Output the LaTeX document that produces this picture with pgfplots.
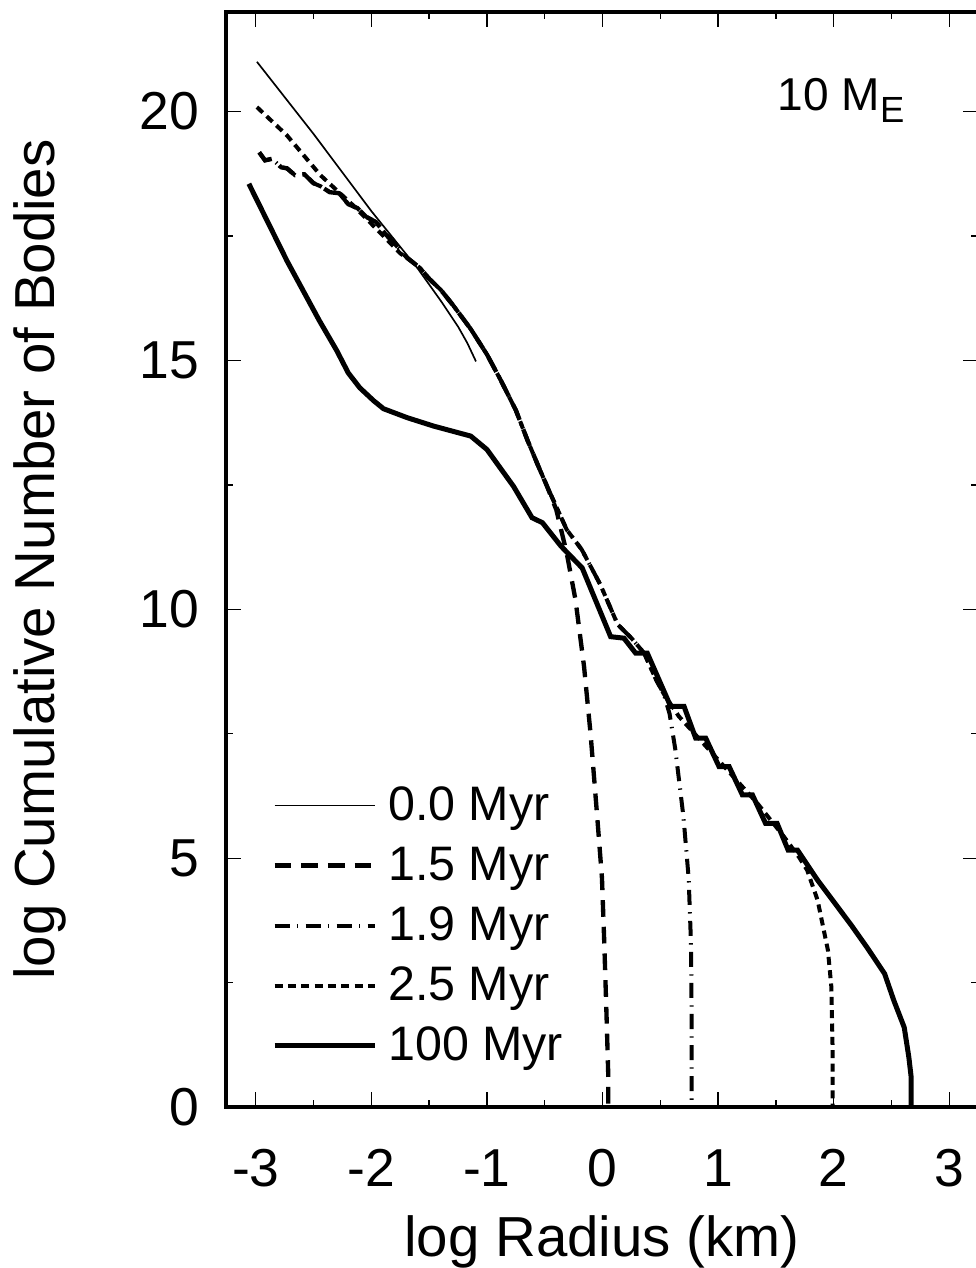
\documentclass[border=0pt]{standalone}
\usepackage{fontspec}
\setmainfont{Liberation Sans}
\usepackage{pgfplots}
\pgfplotsset{compat=1.18}

\newcommand{\tickfont}{\fontsize{16}{19}\selectfont}
\newcommand{\labfont}{\fontsize{16.9}{20}\selectfont}
\newcommand{\legfont}{\fontsize{14.5}{17}\selectfont}

\begin{document}
\begin{tikzpicture}[trim right=224.6pt]
\begin{axis}[
  scale only axis,
  width=225.4pt, height=328pt,
  xmin=-3.26, xmax=3.25,
  ymin=0, ymax=22,
  xtick={-3,-2,-1,0,1,2,3},
  xticklabels={-3,-2,-1,0,1,2,3},
  ytick={0,5,10,15,20},
  yticklabels={0,5,10,15,20},
  minor x tick num=1,
  minor y tick num=1,
  tick align=inside,
  tick pos=both,
  major tick length=4.5pt,
  minor tick length=2.2pt,
  every tick/.style={black, line width=0.4pt},
  axis line style={line width=1.2pt},
  tick label style={font=\tickfont},
  xticklabel style={inner sep=0pt, anchor=north, yshift=-12.5pt},
  yticklabel style={inner sep=0pt, anchor=east, xshift=-7.7pt},
  label style={font=\labfont},
  xlabel={log Radius (km)},
  ylabel={log Cumulative Number of Bodies},
  xlabel style={at={(axis description cs:0.5,-0.1363)}, anchor=base, inner sep=0pt},
  ylabel style={at={(axis description cs:-0.227,0.5)}, anchor=base, inner sep=0pt, inner ysep=4.2pt},
  legend cell align=left,
  legend image code/.code={\draw[#1] (0pt,1.4pt) -- (30pt,1.4pt);},
  legend style={
    at={(axis description cs:0.0616,0.2895)}, anchor=north west,
    draw=none, fill=none, inner sep=0pt, outer sep=0pt,
    row sep=6pt, column sep=3.3pt, font=\legfont,
    nodes={inner sep=0pt, text height=9pt, text depth=3pt}},
]

% initial population
\addplot[black, line width=0.5pt] coordinates {
  (-2.99,21.0) (-2.5,19.55) (-2.0,18.0) (-1.6,16.85) (-1.4,16.2)
  (-1.25,15.68) (-1.17,15.35) (-1.095,14.98)
};
\addlegendentry{0.0 Myr}

% 1.5 Myr
\addplot[black, line width=1.3pt, dash pattern=on 5pt off 3pt] coordinates {
  (-2.97,19.18) (-2.92,19.02) (-2.86,19.05) (-2.78,18.88) (-2.73,18.86)
  (-2.66,18.72) (-2.58,18.74) (-2.50,18.56) (-2.44,18.50) (-2.36,18.38)
  (-2.28,18.36) (-2.20,18.14) (-2.12,18.06) (-2.04,17.88) (-1.96,17.78)
  (-1.87,17.52) (-1.78,17.30) (-1.69,17.06) (-1.58,16.86) (-1.50,16.64)
  (-1.40,16.42) (-1.29,16.10) (-1.14,15.63) (-1.00,15.12) (-0.88,14.60)
  (-0.75,14.00) (-0.65,13.40) (-0.56,12.90) (-0.48,12.47) (-0.40,12.00)
  (-0.31,11.13) (-0.234,10.19) (-0.16,8.85) (-0.104,7.51) (-0.046,5.83)
  (-0.005,4.6) (0.015,3.3) (0.035,1.8) (0.05,0.6) (0.05,0)
};
\addlegendentry{1.5 Myr}

% 1.9 Myr
\addplot[black, line width=1.2pt, dash pattern=on 4.5pt off 2.2pt on 0.4pt off 2.2pt] coordinates {
  (-2.97,19.18) (-2.92,19.02) (-2.86,19.05) (-2.78,18.88) (-2.73,18.86)
  (-2.66,18.72) (-2.58,18.74) (-2.50,18.56) (-2.44,18.50) (-2.36,18.38)
  (-2.28,18.36) (-2.20,18.14) (-2.12,18.06) (-2.04,17.88) (-1.96,17.78)
  (-1.87,17.52) (-1.78,17.30) (-1.69,17.06) (-1.58,16.86) (-1.50,16.64)
  (-1.40,16.42) (-1.29,16.10) (-1.14,15.63) (-1.00,15.12) (-0.88,14.60)
  (-0.75,14.00) (-0.65,13.40) (-0.56,12.90) (-0.48,12.47) (-0.31,11.6)
  (-0.18,11.2) (-0.02,10.5) (0.13,9.7) (0.25,9.42) (0.36,9.12)
  (0.46,8.6) (0.53,8.3) (0.58,7.9) (0.63,7.18) (0.70,5.83)
  (0.745,4.6) (0.765,3.3) (0.77,2.0) (0.77,0)
};
\addlegendentry{1.9 Myr}

% 2.5 Myr
\addplot[black, line width=1.2pt, dash pattern=on 2.4pt off 1.6pt] coordinates {
  (-2.99,20.09) (-2.73,19.52) (-2.44,18.72) (-2.155,18.11) (-1.87,17.44)
  (-1.75,17.15) (-1.69,17.06) (-1.58,16.86) (-1.50,16.64)
  (-1.40,16.42) (-1.29,16.10) (-1.14,15.63) (-1.00,15.12) (-0.88,14.60)
  (-0.75,14.00) (-0.65,13.40) (-0.56,12.90) (-0.48,12.47) (-0.31,11.6)
  (-0.18,11.2) (-0.02,10.5) (0.13,9.7) (0.25,9.42) (0.36,9.12)
  (0.46,8.6) (0.53,8.3) (0.66,7.85) (0.82,7.44) (1.08,6.77)
  (1.34,6.10) (1.57,5.43) (1.70,5.02) (1.77,4.76) (1.86,4.16)
  (1.95,3.15) (1.98,2.4) (1.99,1.2) (1.99,0)
};
\addlegendentry{2.5 Myr}

% 100 Myr
\addplot[black, line width=1.5pt] coordinates {
  (-3.06,18.55) (-2.73,17.0) (-2.45,15.8) (-2.30,15.2) (-2.2,14.75)
  (-2.10,14.45) (-1.98,14.19) (-1.895,14.03) (-1.69,13.85) (-1.46,13.68)
  (-1.14,13.48) (-1.0,13.21) (-0.77,12.47) (-0.61,11.84) (-0.52,11.74)
  (-0.36,11.27) (-0.176,10.83) (0.07,9.45) (0.185,9.42) (0.286,9.12)
  (0.387,9.12) (0.589,8.05) (0.705,8.05) (0.806,7.41) (0.893,7.41)
  (1.008,6.84) (1.095,6.84) (1.21,6.27) (1.297,6.27) (1.41,5.70)
  (1.51,5.70) (1.606,5.16) (1.687,5.16) (1.86,4.56) (2.15,3.66)
  (2.29,3.2) (2.44,2.68) (2.52,2.14) (2.61,1.60) (2.65,1.0)
  (2.67,0.60) (2.67,0)
};
\addlegendentry{100 Myr}

\node[anchor=base west, inner sep=0pt, font=\fontsize{13.8}{16}\selectfont]
  at (axis cs:1.51,20.02) {10 M\raisebox{-3.6pt}{\fontsize{10.9}{12}\selectfont E}};
\end{axis}
\path ([yshift=3.6pt]current axis.north);
\end{tikzpicture}
\end{document}
